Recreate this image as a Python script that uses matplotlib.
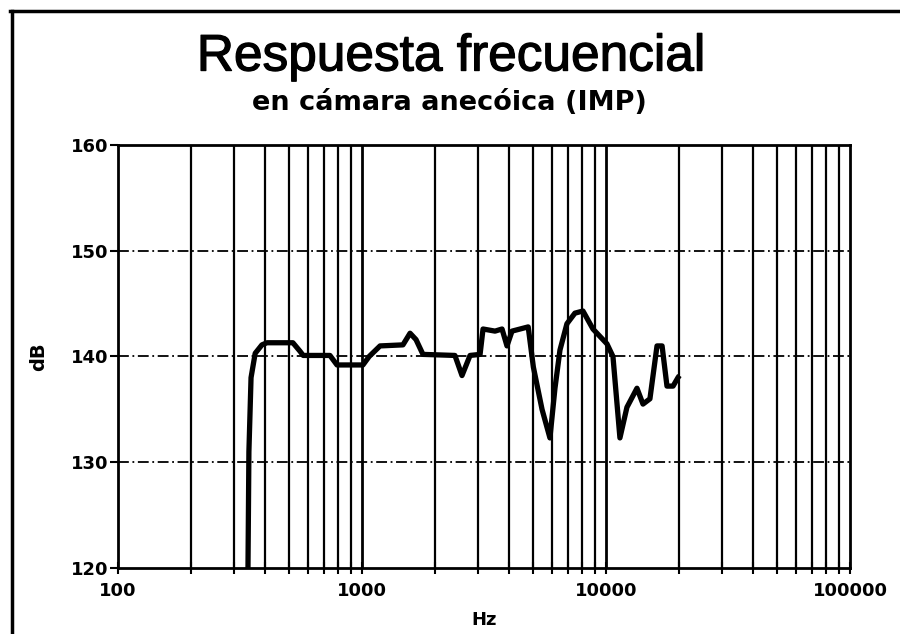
import numpy as np
import matplotlib
matplotlib.use('Agg')
import matplotlib.pyplot as plt
import matplotlib.patheffects as pe
from matplotlib.lines import Line2D
from matplotlib.ticker import FixedLocator, NullFormatter

# === DATA ===
freq_hz = [341, 344, 351, 365, 389, 408, 521, 557, 574, 739, 790, 1009,
           1070, 1186, 1472, 1574, 1665, 1778, 2404, 2570, 2773, 3048,
           3134, 3510, 3750, 3929, 4120, 4800, 5040, 5470, 5893, 6180,
           6477, 6918, 7460, 8049, 8845, 10092, 10682, 11408, 12188,
           13398, 14180, 15142, 16186, 16982, 17783, 18836, 19724, 20000]
level_db = [120.0, 131.0, 138.0, 140.3, 141.1, 141.3, 141.3, 140.5, 140.1,
            140.1, 139.2, 139.2, 140.0, 141.0, 141.1, 142.2, 141.6, 140.2,
            140.1, 138.2, 140.1, 140.2, 142.6, 142.4, 142.6, 141.0, 142.4,
            142.8, 139.0, 135.0, 132.3, 137.0, 140.6, 143.1, 144.1, 144.3,
            142.6, 141.2, 140.0, 132.3, 135.2, 137.0, 135.5, 136.0, 141.0,
            141.0, 137.2, 137.2, 138.0, 138.2]

y_ticks = [120, 130, 140, 150, 160]
x_major = [100, 1000, 10000, 100000]
x_major_labels = ['100', '1000', '10000', '100000']

TITLE = 'Respuesta frecuencial'
SUBTITLE = 'en cámara anecóica (IMP)'

# === FIGURE ===
fig = plt.figure(figsize=(9, 6.34), dpi=100)
ax = fig.add_axes([0.1311, 0.1041, 0.8133, 0.6672])

ax.set_xscale('log')
ax.set_xlim(100, 100000)
ax.set_ylim(120, 160)

# vertical grid (every 1..9 of each decade)
minor_pos = [m * 10 ** d for d in range(2, 5) for m in range(2, 10)]
for x in minor_pos:
    ax.axvline(x, color='black', lw=1.6, zorder=1)
for x in x_major[1:-1]:
    ax.axvline(x, color='black', lw=2.0, zorder=1)

# horizontal grid
for y in y_ticks[1:-1]:
    ax.axhline(y, color='black', lw=1.3, ls=(0, (6, 2, 1, 2)), zorder=1)

ax.plot(freq_hz, level_db, color='black', lw=3.8, solid_joinstyle='round',
        solid_capstyle='butt', zorder=3)

for s in ax.spines.values():
    s.set_linewidth(2)

tick_font = dict(family='DejaVu Sans', weight='bold', size=13)
ax.set_yticks(y_ticks)
ax.set_yticklabels([str(v) for v in y_ticks], fontdict=tick_font)
ax.xaxis.set_major_locator(FixedLocator(x_major))
ax.xaxis.set_minor_locator(FixedLocator(minor_pos))
ax.xaxis.set_minor_formatter(NullFormatter())
ax.set_xticklabels(x_major_labels, fontdict=tick_font)
ax.tick_params(axis='y', direction='out', length=6, width=1.5, pad=1)
ax.tick_params(axis='x', which='both', direction='inout', length=8,
               width=1.5, pad=6)

ax.set_xlabel('Hz', family='DejaVu Sans', weight='bold', size=13, labelpad=8)
ax.set_ylabel('dB', family='DejaVu Sans', weight='bold', size=14, labelpad=16)

fig.text(0.501, 0.910, TITLE, ha='center', va='center',
         family='Liberation Sans', size=37,
         path_effects=[pe.withStroke(linewidth=0.9, foreground='black')])
fig.text(0.499, 0.838, SUBTITLE, ha='center', va='center',
         family='DejaVu Sans', weight='bold', size=19.5)

# scanned page frame (top and left edges)
fig.add_artist(Line2D([0.011, 1.0], [0.983, 0.983], transform=fig.transFigure,
                      color='black', lw=2.5))
fig.add_artist(Line2D([0.013, 0.013], [0.0, 0.983], transform=fig.transFigure,
                      color='black', lw=2.5))

fig.savefig('out.png', dpi=100)
